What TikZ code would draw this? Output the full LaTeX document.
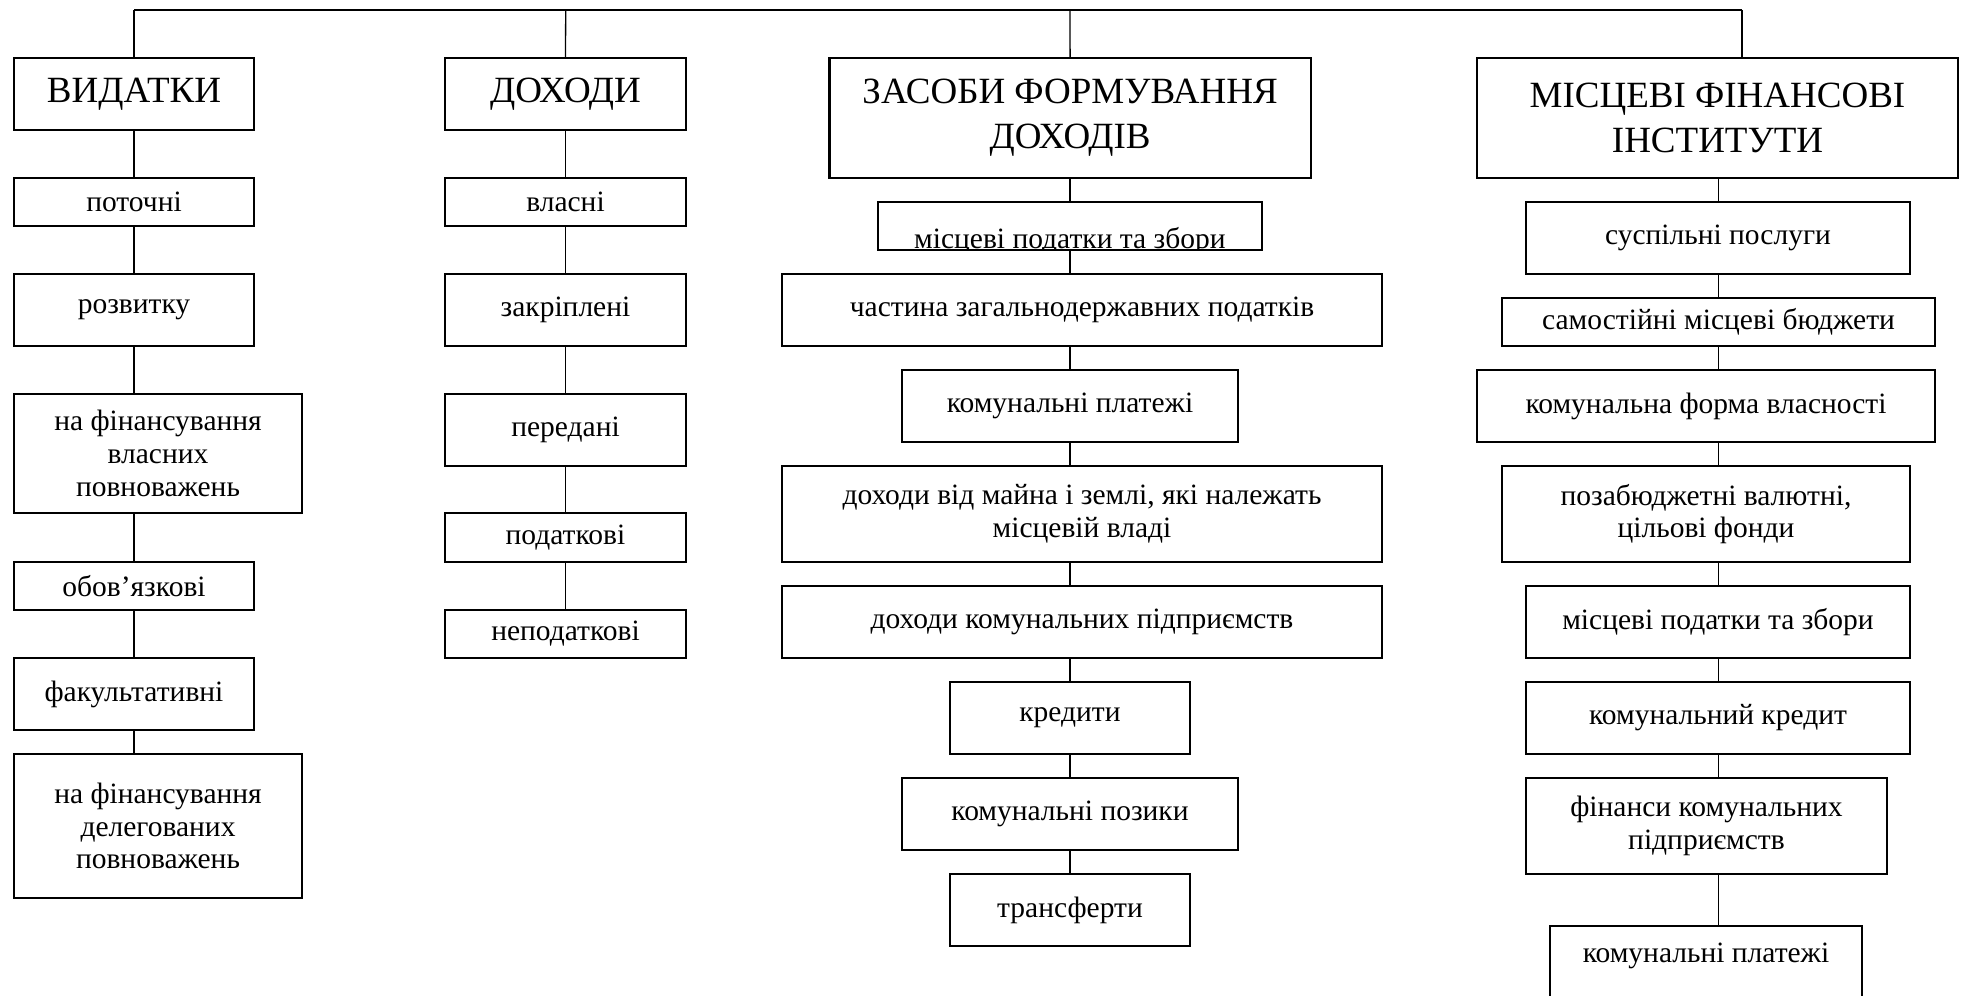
\documentclass[tikz,border=0pt]{standalone}
\usepackage{fontspec}
\setmainfont{Liberation Serif}
\begin{document}
\begin{tikzpicture}[x=0.5pt,y=-0.5pt,
  box/.style={draw, line width=1.1pt, inner sep=0pt, align=center, font=\fontsize{14.75}{16.3}\selectfont},
  big/.style={font=\fontsize{18.5}{22.5}\selectfont},
  conn/.style={line width=0.65pt}]
\useasboundingbox (0,0) rectangle (1963,995);
\newcommand\bx[7][]{\node[box,#1, minimum width={(#4-#3)*0.5pt}, minimum height={(#6-#5)*0.5pt}] (#2) at ({(#3+#4)/2},{(#5+#6)/2}) {#7};}
% column 1
\bx[big]{v1}{14}{254}{58}{130}{ВИДАТКИ}
\bx{p1}{14}{254}{178}{226}{поточні}
\bx{r1}{14}{254}{274}{346}{розвитку}
\bx{fv}{14}{302}{394}{513}{на фінансування\\власних\\повноважень}
\bx{ob}{14}{254}{562}{610}{обов’язкові}
\bx{fa}{14}{254}{658}{730}{факультативні}
\bx{fd}{14}{302}{754}{898}{на фінансування\\делегованих\\повноважень}
% column 2
\bx[big]{D}{445}{686}{58}{130}{ДОХОДИ}
\bx{vl}{445}{686}{178}{226}{власні}
\bx{za}{445}{686}{274}{346}{закріплені}
\bx{pe}{445}{686}{394}{466}{передані}
\bx{po}{445}{686}{513}{562}{податкові}
\bx{ne}{445}{686}{610}{658}{неподаткові}
% column 3
\bx[big]{Z}{829.5}{1310.7}{58}{178}{ЗАСОБИ ФОРМУВАННЯ\\ДОХОДІВ}
\bx[path picture={\node[anchor=base, inner sep=0pt, font=\fontsize{14.75}{16.3}\selectfont] at ([yshift=1pt]path picture bounding box.south) {місцеві податки та збори};}]{mp}{877.7}{1262}{202}{250}{}
\bx{ch}{782}{1382}{274}{346}{частина загальнодержавних податків}
\bx{kp}{902}{1238}{370}{442}{комунальні платежі}
\bx{dm}{782}{1382}{466}{562}{доходи від майна і землі, які належать\\місцевій владі}
\bx{dk}{782}{1382}{586}{658}{доходи комунальних підприємств}
\bx{kr}{950}{1190}{682}{754}{кредити}
\bx{kpz}{902}{1238}{778}{850}{комунальні позики}
\bx{tr}{950}{1190}{874}{946}{трансферти}
% column 4
\bx[big]{M}{1477}{1958}{58}{178}{МІСЦЕВІ ФІНАНСОВІ\\ІНСТИТУТИ}
\bx{sp}{1526}{1910}{202}{274}{суспільні послуги}
\bx{sb}{1502}{1935}{298}{346}{самостійні місцеві бюджети}
\bx{kf}{1477}{1935}{370}{442}{комунальна форма власності}
\bx{pz}{1502}{1910}{466}{562}{позабюджетні валютні,\\цільові фонди}
\bx{mz}{1526}{1910}{586}{658}{місцеві податки та збори}
\bx{kk}{1526}{1910}{682}{754}{комунальний кредит}
\bx{fk}{1526}{1887}{778}{874}{фінанси комунальних\\підприємств}
\bx[draw=none, outer sep=0pt]{kpl}{1550}{1862}{926}{986}{комунальні платежі}
\coordinate (bot) at (0,997);
\draw[line width=1.1pt] (kpl.north west |- bot) -- (kpl.north west) -- (kpl.north east) -- (kpl.north east |- bot);
% top bus
\coordinate (t1) at (134,10);
\coordinate (t2) at (565.7,10);
\coordinate (t3) at (1070,10);
\coordinate (t4) at (1742,10);
\draw[conn] (t1) -- (t4);
\draw[conn] (t1) -- (v1.north);
\draw[conn] (t2) -- (D.north);
\draw[conn] (t3) -- (Z.north);
\draw[conn] (t4) -- (t4 |- M.north);
% chain lines
\coordinate (c1) at (134,0);
\coordinate (c2) at (565.7,0);
\coordinate (c3) at (1070,0);
\coordinate (c4) at (1718.5,0);
\foreach \a/\b in {v1/p1,p1/r1,r1/fv,fv/ob,ob/fa,fa/fd}
  \draw[conn] (\a.south -| c1) -- (\b.north -| c1);
\foreach \a/\b in {D/vl,vl/za,za/pe,pe/po,po/ne}
  \draw[conn] (\a.south -| c2) -- (\b.north -| c2);
\foreach \a/\b in {Z/mp,mp/ch,ch/kp,kp/dm,dm/dk,dk/kr,kr/kpz,kpz/tr}
  \draw[conn] (\a.south -| c3) -- (\b.north -| c3);
\foreach \a/\b in {M/sp,sp/sb,sb/kf,kf/pz,pz/mz,mz/kk,kk/fk,fk/kpl}
  \draw[conn] (\a.south -| c4) -- (\b.north -| c4);
\end{tikzpicture}
\end{document}
